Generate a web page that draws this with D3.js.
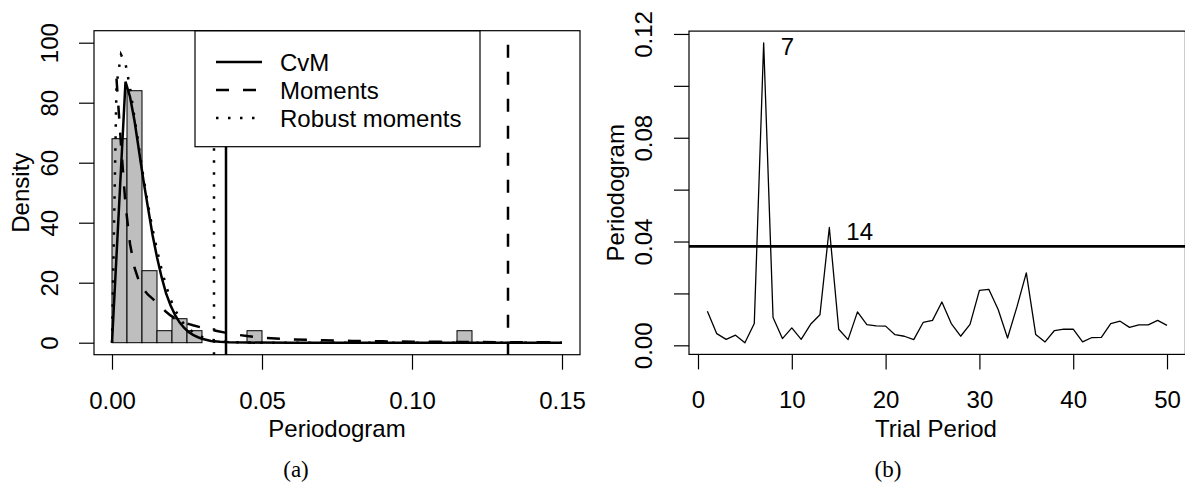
<!DOCTYPE html>
<html>
<head>
	<meta charset="utf-8">
	<title>periodogram</title>
	<script src="https://d3js.org/d3.v7.min.js"></script>
	<style>
		body { margin: 0; background: #fff; }
		text { font-family: "Liberation Sans", Arial, Helvetica, sans-serif; }
	</style>
</head>
<body>
	<script type="text/javascript">

		// ---- panel (a): histogram of periodogram values ----
		var histBreaks = [0, 0.005, 0.01, 0.015, 0.02, 0.025, 0.03, 0.035, 0.04, 0.045, 0.05, 0.055,
			0.06, 0.065, 0.07, 0.075, 0.08, 0.085, 0.09, 0.095, 0.1, 0.105, 0.11, 0.115, 0.12];
		var histDensity = [68, 84, 24, 4, 8, 4, 0, 0, 0, 4, 0, 0, 0, 0, 0, 0, 0, 0, 0, 0, 0, 0, 0, 4];

		// fitted densities
		var cvmX = [0, 0.0015, 0.003, 0.0045, 0.006, 0.0075, 0.009, 0.0105, 0.012, 0.0135, 0.015, 0.0165,
			0.018, 0.0195, 0.021, 0.0225, 0.024, 0.0255, 0.027, 0.0285, 0.03, 0.033, 0.036, 0.039, 0.045, 0.06, 0.15];
		var cvmY = [0, 29, 58, 87, 82, 74, 64, 54, 45, 36, 28.5, 22,
			16.5, 12.5, 9.3, 6.8, 5, 3.6, 2.6, 1.9, 1.3, 0.6, 0.3, 0.12, 0.03, 0, 0];

		var momX = [0.0015, 0.003, 0.0045, 0.006, 0.0075, 0.009, 0.0105, 0.012, 0.0135, 0.015, 0.0165, 0.018,
			0.0195, 0.021, 0.024, 0.027, 0.03, 0.035, 0.04, 0.045, 0.05, 0.06, 0.07, 0.08, 0.09, 0.1,
			0.11, 0.12, 0.13, 0.14, 0.15];
		var momY = [88, 66, 46, 33, 25, 20.5, 17.8, 16, 14.7, 13.3, 11.8, 10.3,
			9.1, 8.1, 6.7, 5.8, 5.0, 3.9, 2.9, 2.2, 1.7, 1.1, 0.8, 0.6, 0.45, 0.35,
			0.28, 0.22, 0.17, 0.13, 0.1];

		var robX = [0, 0.0015, 0.003, 0.0045, 0.006, 0.0075, 0.009, 0.0105, 0.012, 0.0135, 0.015, 0.0165,
			0.018, 0.0195, 0.021, 0.0225, 0.024, 0.027, 0.03, 0.033, 0.036, 0.04, 0.045, 0.05, 0.15];
		var robY = [0, 86, 96, 93, 85, 75, 65, 55, 46, 38, 31, 24.5,
			19, 14.5, 11, 8.3, 6.2, 3.5, 1.9, 1.0, 0.5, 0.2, 0.06, 0.02, 0];

		// thresholds: CvM, Moments, Robust moments
		var thresholds = [0.038, 0.132, 0.034];
		var legendLabels = ["CvM", "Moments", "Robust moments"];
		var dashes = [null, "13,14", "2.5,9.5"];

		var xTicksA = [0, 0.05, 0.1, 0.15];
		var yTicksA = [0, 20, 40, 60, 80, 100];

		// ---- panel (b): periodogram vs trial period ----
		var periods = [];
		for (var p = 1; p <= 50; p++) periods.push(p);
		var pgram = [0.0131, 0.0045, 0.0023, 0.0039, 0.0010, 0.0084, 0.1166, 0.0107, 0.0026, 0.0067,
			0.0023, 0.0081, 0.0118, 0.0454, 0.0062, 0.0022, 0.0129, 0.0080, 0.0075, 0.0074,
			0.0041, 0.0035, 0.0022, 0.0088, 0.0096, 0.0167, 0.0084, 0.0035, 0.0081, 0.0212,
			0.0216, 0.0138, 0.0028, 0.0148, 0.0279, 0.0042, 0.0013, 0.0057, 0.0062, 0.0062,
			0.0013, 0.0030, 0.0031, 0.0084, 0.0093, 0.0069, 0.0079, 0.0079, 0.0096, 0.0077];
		var pgramThreshold = 0.0381;
		var peakPeriods = [7, 14];

		var xTicksB = [0, 10, 20, 30, 40, 50];
		var yTicksB = [0, 0.02, 0.04, 0.06, 0.08, 0.1, 0.12];
		var yLabelsB = [0, 0.04, 0.08, 0.12];

		var width = 1185, height = 487;
		var fs = 24;

		var svg = d3.select("body").append("svg")
			.attr("width", width)
			.attr("height", height);

		svg.append("rect").attr("width", width).attr("height", height).attr("fill", "#fff");

		// scales (R style 4% extension)
		var xA = d3.scaleLinear().domain([-0.006, 0.156]).range([94, 580]);
		var yA = d3.scaleLinear().domain([-4, 104]).range([354.7, 30.7]);
		var xB = d3.scaleLinear().domain([-0.96, 51.96]).range([689, 1185.4]);
		var yB = d3.scaleLinear().domain([-0.0035, 0.1211]).range([354.4, 31.1]);

		function zip(a, b) { return a.map(function (d, i) { return [d, b[i]]; }); }

		// ===== panel a =====
		var ga = svg.append("g");

		ga.selectAll("rect.bar")
			.data(histDensity)
			.enter()
				.append("rect")
				.attr("class", "bar")
				.attr("x", function (d, i) { return xA(histBreaks[i]); })
				.attr("width", function (d, i) { return xA(histBreaks[i + 1]) - xA(histBreaks[i]); })
				.attr("y", function (d) { return yA(d); })
				.attr("height", function (d) { return yA(0) - yA(d); })
				.attr("fill", "#bebebe")
				.attr("stroke", "#000")
				.attr("stroke-width", 1);

		var lineA = d3.line()
			.x(function (d) { return xA(d[0]); })
			.y(function (d) { return yA(d[1]); });

		var curves = [zip(cvmX, cvmY), zip(momX, momY), zip(robX, robY)];
		curves.forEach(function (c, i) {
			ga.append("path")
				.attr("d", lineA(c))
				.attr("fill", "none")
				.attr("stroke", "#000")
				.attr("stroke-width", 2.5)
				.attr("stroke-dasharray", dashes[i]);
		});

		ga.selectAll("line.thr")
			.data(thresholds)
			.enter()
				.append("line")
				.attr("x1", function (d) { return xA(d); })
				.attr("x2", function (d) { return xA(d); })
				.attr("y1", yA.range()[0])
				.attr("y2", yA.range()[1])
				.attr("stroke", "#000")
				.attr("stroke-width", 2.5)
				.attr("stroke-dasharray", function (d, i) { return dashes[i]; });

		// legend
		var leg = ga.append("g");
		leg.append("rect")
			.attr("x", 195).attr("y", 30.7).attr("width", 285).attr("height", 116)
			.attr("fill", "#fff").attr("stroke", "#000").attr("stroke-width", 1.2);
		legendLabels.forEach(function (lab, i) {
			leg.append("line")
				.attr("x1", 216).attr("x2", 262)
				.attr("y1", 62 + i * 28).attr("y2", 62 + i * 28)
				.attr("stroke", "#000").attr("stroke-width", 2.5)
				.attr("stroke-dasharray", dashes[i]);
			leg.append("text")
				.attr("x", 280).attr("y", 70.5 + i * 28)
				.attr("font-size", fs)
				.text(lab);
		});

		// box
		ga.append("rect")
			.attr("x", xA.range()[0]).attr("y", yA.range()[1])
			.attr("width", xA.range()[1] - xA.range()[0])
			.attr("height", yA.range()[0] - yA.range()[1])
			.attr("fill", "none").attr("stroke", "#000").attr("stroke-width", 1.2);

		// axes
		var axA = ga.append("g")
			.attr("transform", "translate(0," + yA.range()[0] + ")")
			.call(d3.axisBottom(xA).tickValues(xTicksA).tickFormat(d3.format(".2f")).tickSize(15).tickSizeOuter(0));
		axA.select(".domain").remove();
		axA.selectAll("line").attr("stroke-width", 1.2);
		axA.selectAll("text").attr("y", 54).attr("dy", null).attr("font-size", fs).attr("fill", "#000")
			.style("font-family", "'Liberation Sans', Arial, sans-serif");

		var ayA = ga.append("g")
			.attr("transform", "translate(" + xA.range()[0] + ",0)")
			.call(d3.axisLeft(yA).tickValues(yTicksA).tickSize(15).tickSizeOuter(0));
		ayA.select(".domain").remove();
		ayA.selectAll("line").attr("stroke-width", 1.2);
		ayA.selectAll("text")
			.attr("x", null).attr("dy", null)
			.attr("text-anchor", "middle")
			.attr("transform", "translate(-36,0) rotate(-90)")
			.attr("font-size", fs).attr("fill", "#000")
			.style("font-family", "'Liberation Sans', Arial, sans-serif");

		ga.append("text")
			.attr("x", (xA.range()[0] + xA.range()[1]) / 2).attr("y", 437)
			.attr("text-anchor", "middle").attr("font-size", fs)
			.text("Periodogram");
		ga.append("text")
			.attr("transform", "translate(29," + (yA.range()[0] + yA.range()[1]) / 2 + ") rotate(-90)")
			.attr("text-anchor", "middle").attr("font-size", fs)
			.text("Density");

		// ===== panel b =====
		var gb = svg.append("g");

		var lineB = d3.line()
			.x(function (d) { return xB(d[0]); })
			.y(function (d) { return yB(d[1]); });

		gb.append("path")
			.attr("d", lineB(zip(periods, pgram)))
			.attr("fill", "none")
			.attr("stroke", "#000")
			.attr("stroke-width", 1.3)
			.attr("stroke-linejoin", "round");

		gb.append("line")
			.attr("x1", xB.range()[0]).attr("x2", xB.range()[1])
			.attr("y1", yB(pgramThreshold)).attr("y2", yB(pgramThreshold))
			.attr("stroke", "#000").attr("stroke-width", 2.7);

		gb.selectAll("text.peak")
			.data(peakPeriods)
			.enter()
				.append("text")
				.attr("class", "peak")
				.attr("x", function (d) { return xB(d) + 17; })
				.attr("y", function (d) { return yB(pgram[d - 1]) + 12.5; })
				.attr("font-size", fs)
				.text(function (d) { return d; });

		gb.append("rect")
			.attr("x", xB.range()[0]).attr("y", yB.range()[1])
			.attr("width", xB.range()[1] - xB.range()[0])
			.attr("height", yB.range()[0] - yB.range()[1])
			.attr("fill", "none").attr("stroke", "#000").attr("stroke-width", 1.2);

		var axB = gb.append("g")
			.attr("transform", "translate(0," + yB.range()[0] + ")")
			.call(d3.axisBottom(xB).tickValues(xTicksB).tickSize(15).tickSizeOuter(0));
		axB.select(".domain").remove();
		axB.selectAll("line").attr("stroke-width", 1.2);
		axB.selectAll("text").attr("y", 54).attr("dy", null).attr("font-size", fs).attr("fill", "#000")
			.style("font-family", "'Liberation Sans', Arial, sans-serif");

		var fmtB = d3.format(".2f");
		var ayB = gb.append("g")
			.attr("transform", "translate(" + xB.range()[0] + ",0)")
			.call(d3.axisLeft(yB).tickValues(yTicksB).tickSize(15).tickSizeOuter(0)
				.tickFormat(function (d) {
					return yLabelsB.some(function (v) { return Math.abs(v - d) < 1e-9; }) ? fmtB(d) : "";
				}));
		ayB.select(".domain").remove();
		ayB.selectAll("line").attr("stroke-width", 1.2);
		ayB.selectAll("text")
			.attr("x", null).attr("dy", null)
			.attr("text-anchor", "middle")
			.attr("transform", "translate(-37,0) rotate(-90)")
			.attr("font-size", fs).attr("fill", "#000")
			.style("font-family", "'Liberation Sans', Arial, sans-serif");

		gb.append("text")
			.attr("x", 936).attr("y", 437)
			.attr("text-anchor", "middle").attr("font-size", fs)
			.text("Trial Period");
		gb.append("text")
			.attr("transform", "translate(624," + (yB.range()[0] + yB.range()[1]) / 2 + ") rotate(-90)")
			.attr("text-anchor", "middle").attr("font-size", fs)
			.text("Periodogram");

		// sub-captions
		svg.selectAll("text.cap")
			.data(["(a)", "(b)"])
			.enter()
				.append("text")
				.attr("class", "cap")
				.attr("x", function (d, i) { return i === 0 ? 296 : 888; })
				.attr("y", 477)
				.attr("text-anchor", "middle")
				.attr("font-size", 23)
				.style("font-family", "'Liberation Serif', 'DejaVu Serif', serif")
				.text(function (d) { return d; });

	</script>
</body>
</html>
